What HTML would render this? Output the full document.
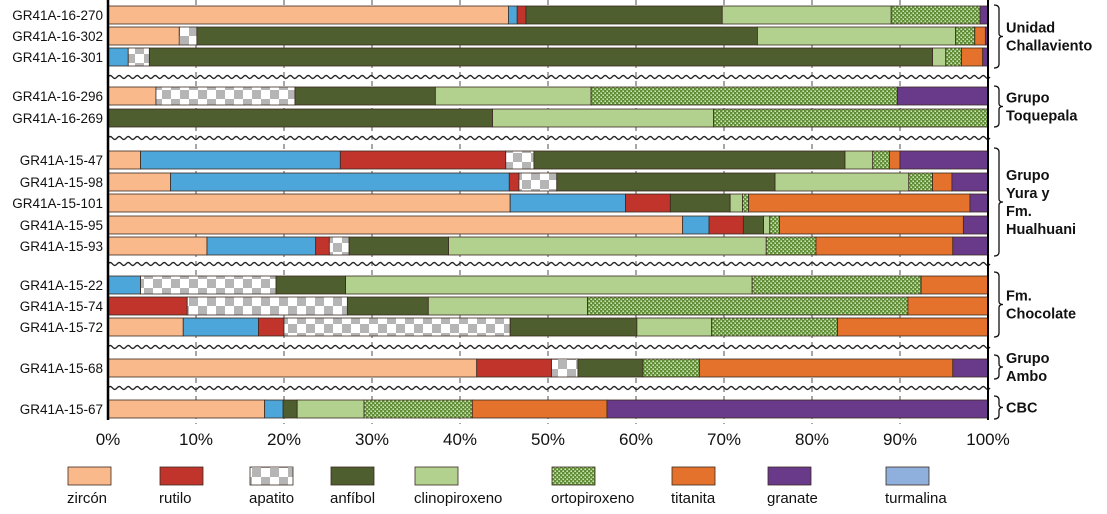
<!DOCTYPE html>
<html><head><meta charset="utf-8">
<style>
body{margin:0;background:#fff;width:1107px;height:509px;overflow:hidden;font-family:"Liberation Sans",Arial,sans-serif;}
svg text{font-family:"Liberation Sans",Arial,sans-serif;}
</style></head>
<body>
<svg id="chart" width="1107" height="509" xmlns="http://www.w3.org/2000/svg">
<defs>
<pattern id="pApat" width="18" height="18" patternUnits="userSpaceOnUse">
<rect width="18" height="18" fill="#fff"/><rect width="9" height="9" fill="#b5b5b5"/><rect x="9" y="9" width="9" height="9" fill="#b5b5b5"/>
</pattern>
<pattern id="pOrto" width="4" height="4" patternUnits="userSpaceOnUse">
<rect width="4" height="4" fill="#5f8e34"/><rect x="0.5" y="0.5" width="1.4" height="1.4" fill="#eef4e0"/><rect x="2.5" y="2.5" width="1.4" height="1.4" fill="#eef4e0"/>
</pattern>
</defs>
<g id="grid"></g>
<g id="bars"></g>
<g id="waves"></g>
<g id="axes"></g>
<g id="groups"></g>
<g id="legend"></g>
</svg>
<script>
const samples = ["GR41A-16-270","GR41A-16-302","GR41A-16-301","GR41A-16-296","GR41A-16-269","GR41A-15-47","GR41A-15-98","GR41A-15-101","GR41A-15-95","GR41A-15-93","GR41A-15-22","GR41A-15-74","GR41A-15-72","GR41A-15-68","GR41A-15-67"];
const zircon   = [45.5,8.1,0,5.45,0,3.7,7.1,45.7,65.3,11.25,0,0,8.55,41.9,17.8];
const turmalina= [1.0,0,2.3,0,0,22.7,38.5,13.1,3.0,12.35,3.7,0,8.55,0,2.1];
const rutilo   = [1.0,0,0,0,0,18.8,1.1,5.1,3.9,1.55,0,9.0,2.9,8.5,0];
const apatito  = [0,2.0,2.4,15.8,0,3.2,4.3,0,0,2.25,15.4,18.2,25.7,3.0,0];
const anfibol  = [22.3,63.7,89.0,15.95,43.7,35.35,24.8,6.8,2.3,11.3,7.9,9.2,14.4,7.4,1.6];
const clino    = [19.2,22.5,1.5,17.7,25.1,3.15,15.2,1.4,0.7,36.1,46.2,18.1,8.5,0,7.6];
const orto     = [10.1,2.2,1.8,34.8,31.2,1.9,2.7,0.7,1.1,5.65,19.2,36.4,14.3,6.4,12.3];
const titanita = [0,1.2,2.4,0,0,1.2,2.2,25.15,20.9,15.55,7.6,9.1,17.1,28.8,15.3];
const granate  = [0.9,0.3,0.6,10.3,0,10.0,4.1,2.05,2.8,4.0,0,0,0,4.0,43.3];
const ticks = ["0%","10%","20%","30%","40%","50%","60%","70%","80%","90%","100%"];
const legendNames = ["zircón","rutilo","apatito","anfíbol","clinopiroxeno","ortopiroxeno","titanita","granate","turmalina"];

const NS="http://www.w3.org/2000/svg";
const X0=108,X1=988;
const x=v=>X0+(X1-X0)*v/100;
const rowY=[6,27,48,87,109,151,173,194,216,237,276,297,318,359,400];
const BH=18;
function mk(tag,attrs,parent){const e=document.createElementNS(NS,tag);for(const k in attrs)e.setAttribute(k,attrs[k]);parent.appendChild(e);return e;}
const grid=document.getElementById('grid'),bars=document.getElementById('bars'),waves=document.getElementById('waves'),axes=document.getElementById('axes'),groups=document.getElementById('groups'),legend=document.getElementById('legend');

ticks.forEach((t,i)=>{
  const xv=x(i*10);
  if(i>0&&i<10){const l=mk('line',{x1:xv,x2:xv,y1:0,y2:424,stroke:'#777','stroke-width':1.3,'stroke-dasharray':'5,4'},grid);
  
  }
  const tx=mk('text',{x:xv,y:445,'text-anchor':'middle','font-size':17,fill:'#111'},axes);
  tx.textContent=t;
  
  
});

const series=[
 {n:'zircon',d:zircon,f:'#f9b98a'},
 {n:'turmalina',d:turmalina,f:'#4da6d9'},
 {n:'rutilo',d:rutilo,f:'#c0342c'},
 {n:'apatito',d:apatito,f:'url(#pApat)'},
 {n:'anfibol',d:anfibol,f:'#4f5e2e'},
 {n:'clinopiroxeno',d:clino,f:'#b2d08e'},
 {n:'ortopiroxeno',d:orto,f:'url(#pOrto)'},
 {n:'titanita',d:titanita,f:'#e4722c'},
 {n:'granate',d:granate,f:'#6a3a8a'}];

samples.forEach((s,i)=>{
  let acc=0;const y=rowY[i];
  series.forEach(se=>{
    const v=se.d[i];
    if(v>0){const r=mk('rect',{x:x(acc),y:y,width:x(acc+v)-x(acc),height:BH,fill:se.f,stroke:'#3a2a20','stroke-width':0.8},bars);
    
    }
    acc+=v;
  });
  const lb=mk('text',{x:103,y:y+14,'text-anchor':'end','font-size':13.5,fill:'#111'},axes);
  lb.textContent=s;
  
  
});

[77,138,264,347,388].forEach(wy=>{
  let d='M'+X0+' '+wy;
  for(let xx=X0;xx<X1;xx+=4.5){d+=' Q'+(xx+2.25)+' '+(wy+((Math.round((xx-X0)/4.5)%2)?3:-3))+' '+(xx+4.5)+' '+wy;}
  const p=mk('path',{d:d,fill:'none',stroke:'#222','stroke-width':1.4},waves);
  
  
});

const ax=mk('line',{x1:X0,x2:X0,y1:0,y2:420,stroke:'#000','stroke-width':2.5},axes);


const ax2=mk('line',{x1:X1,x2:X1,y1:0,y2:420,stroke:'#000','stroke-width':2},axes);



const grp=[
 {t:['Unidad','Challaviento'],y0:5,y1:68},
 {t:['Grupo','Toquepala'],y0:86,y1:127},
 {t:['Grupo','Yura y','Fm.','Hualhuani'],y0:148,y1:256},
 {t:['Fm.','Chocolate'],y0:272,y1:337},
 {t:['Grupo','Ambo'],y0:355,y1:379},
 {t:['CBC'],y0:396,y1:419}];
grp.forEach(g=>{
  const m=(g.y0+g.y1)/2;
  const d=`M994 ${g.y0} Q999 ${g.y0} 999 ${g.y0+4} L999 ${m-3} Q999 ${m} 1003 ${m} Q999 ${m} 999 ${m+3} L999 ${g.y1-4} Q999 ${g.y1} 994 ${g.y1}`;
  const p=mk('path',{d:d,fill:'none',stroke:'#111','stroke-width':1.3},groups);
  
  
  const n=g.t.length,lh=18;
  g.t.forEach((t,j)=>{
    const tx=mk('text',{x:1006,y:m+5+(j-(n-1)/2)*lh,'font-size':14.5,'font-weight':'bold',fill:'#111'},groups);
    tx.textContent=t;
    
    
  });
});

const legFill=['#f9b98a','#c0342c','url(#pApat)','#4f5e2e','#b2d08e','url(#pOrto)','#e4722c','#6a3a8a','#8fb0dc'];
const legX=[68,160,250,331,415,552,672,768,886];
legendNames.forEach((n,i)=>{
  const r=mk('rect',{x:legX[i],y:467,width:43,height:18,fill:legFill[i],stroke:'#3a2a20','stroke-width':0.8},legend);
  
  
  const t=mk('text',{x:legX[i]-1,y:503,'font-size':15,fill:'#111'},legend);
  t.textContent=n;
  
  
});
</script>
</body></html>
